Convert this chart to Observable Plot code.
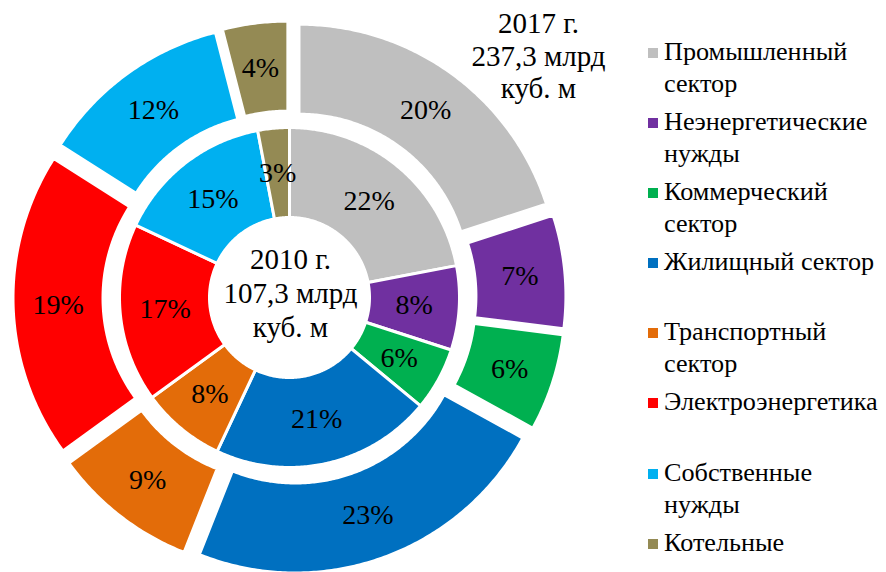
<!DOCTYPE html>
<html><head><meta charset="utf-8">
<script src="https://cdn.jsdelivr.net/npm/d3@7"></script>
<script src="https://cdn.jsdelivr.net/npm/@observablehq/plot@0.6"></script>
<style>
body{margin:0;background:#fff;}
#wrap{position:relative;width:886px;height:572px;overflow:hidden;font-family:"Liberation Serif","Times New Roman",serif;}
#chart{position:absolute;left:0;top:0;}
#legend{position:absolute;left:648px;top:36px;}
.item{position:relative;height:70.1px;}
.sw{position:absolute;left:0;width:10px;height:10px;top:12px;}
.lab{position:absolute;left:16px;top:0;width:230px;font-size:26.2px;line-height:32px;color:#000;white-space:normal;}
</style></head>
<body><div id="wrap"><div id="chart"></div><div id="legend"></div></div>
<script>
const categories = ["Промышленный сектор","Неэнергетические нужды","Коммерческий сектор","Жилищный сектор","Транспортный сектор","Электроэнергетика","Собственные нужды","Котельные"];
const colors = ["#BFBFBF","#7030A0","#00B050","#0070C0","#E36C09","#FF0000","#00B0F0","#948A54"];
const share2010 = [22,8,6,21,8,17,15,3];
const share2017 = [20,7,6,23,9,19,12,4];
const centerLabel = "2010 г.\n107,3 млрд\nкуб. м";
const outerLabel = "2017 г.\n237,3 млрд\nкуб. м";

const W = 620, H = 572, CX = 289, CY = 297;
const R0 = 80, R1 = 170, R2 = 259, EXPLODE = 17;

const pie = d3.pie().sort(null).value(d => d.value);
function ring(values, rIn, rOut, offset, tag) {
  const arcs = pie(values.map((v, i) => ({cat: categories[i], value: v})));
  const polys = [], labels = [];
  arcs.forEach(a => {
    const mid = (a.startAngle + a.endAngle) / 2;
    const ox = offset * Math.sin(mid), oy = offset * Math.cos(mid);
    const span = a.endAngle - a.startAngle;
    const n = Math.max(2, Math.ceil(span / 0.01));
    const key = tag + a.index;
    for (let k = 0; k <= n; k++) {
      const t = a.startAngle + span * k / n;
      polys.push({key, cat: a.data.cat, x: rOut * Math.sin(t) + ox, y: rOut * Math.cos(t) + oy});
    }
    for (let k = n; k >= 0; k--) {
      const t = a.startAngle + span * k / n;
      polys.push({key, cat: a.data.cat, x: rIn * Math.sin(t) + ox, y: rIn * Math.cos(t) + oy});
    }
    const rm = (rIn + rOut) / 2;
    labels.push({x: rm * Math.sin(mid) + ox, y: rm * Math.cos(mid) + oy, text: a.data.value + "%"});
  });
  return {polys, labels};
}
const inner = ring(share2010, R0, R1, 0, "a");
const outer = ring(share2017, R1, R2, EXPLODE, "b");

const font = "'Liberation Serif','Times New Roman',serif";
const chart = Plot.plot({
  width: W, height: H, margin: 0,
  style: {background: "white"},
  x: {domain: [-CX, W - CX], axis: null},
  y: {domain: [CY - H, CY], axis: null},
  color: {domain: categories, range: colors},
  marks: [
    Plot.line(outer.polys, {x: "x", y: "y", z: "key", fill: "cat", stroke: "white", strokeWidth: 2, curve: "linear-closed"}),
    Plot.line(inner.polys, {x: "x", y: "y", z: "key", fill: "cat", stroke: "white", strokeWidth: 3, curve: "linear-closed"}),
    Plot.text(outer.labels, {x: "x", y: "y", text: "text", fontSize: 28, fontFamily: font, fill: "black"}),
    Plot.text(inner.labels, {x: "x", y: "y", text: "text", fontSize: 28, fontFamily: font, fill: "black"}),
    Plot.text([centerLabel], {x: 1, y: 5, text: d => d, fontSize: 29, fontFamily: font, lineHeight: 1.17, fill: "black"}),
    Plot.text([outerLabel], {x: 249, y: 242, text: d => d, fontSize: 29, fontFamily: font, lineHeight: 1.12, fill: "black"})
  ]
});
document.getElementById("chart").appendChild(chart);

const legend = document.getElementById("legend");
categories.forEach((c, i) => {
  const item = document.createElement("div");
  item.className = "item";
  const sw = document.createElement("div");
  sw.className = "sw";
  sw.style.background = colors[i];
  const lab = document.createElement("div");
  lab.className = "lab";
  lab.textContent = c;
  item.appendChild(sw);
  item.appendChild(lab);
  legend.appendChild(item);
});
</script>
</body></html>
